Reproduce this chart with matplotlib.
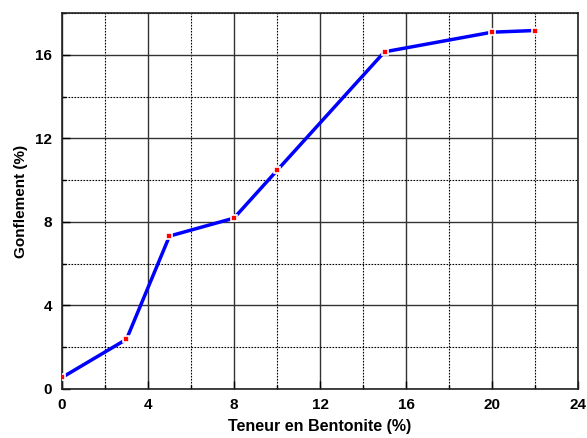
import matplotlib
matplotlib.use("Agg")
import matplotlib.pyplot as plt
from matplotlib.ticker import MultipleLocator

bentonite = [0.0, 3, 5, 8, 10, 15, 20, 22]
gonflement = [0.55, 2.38, 7.32, 8.18, 10.46, 16.14, 17.08, 17.16]
xticks = [0, 4, 8, 12, 16, 20, 24]
yticks = [0, 4, 8, 12, 16]

plt.rcParams['font.family'] = ['Liberation Sans', 'DejaVu Sans']
fig = plt.figure(figsize=(5.87, 4.38), dpi=100)
ax = fig.add_axes([0.1056, 0.1119, 0.8791, 0.8585])

ax.plot(bentonite, gonflement, color='#0000ff', lw=2.5, marker='s', ms=4,
        mfc='red', mec='white', mew=1.2, zorder=3)

ax.set_xlim(0, 24)
ax.set_ylim(0, 18)
ax.set_xticks(xticks)
ax.set_yticks(yticks)
ax.xaxis.set_minor_locator(MultipleLocator(2))
ax.yaxis.set_minor_locator(MultipleLocator(2))
ax.grid(which='major', color='#333333', lw=1.0, ls='-')
ax.grid(which='minor', color='black', lw=0.8, ls=(0, (1.5, 1.2)))
ax.tick_params(which='both', direction='in', top=False, right=False,
               labelsize=11, width=1)
ax.tick_params(which='major', length=6)
ax.tick_params(which='minor', length=3)
ax.tick_params(axis='x', which='major', pad=6.5)
ax.tick_params(axis='y', which='major', pad=7)
for lab in ax.get_xticklabels() + ax.get_yticklabels():
    lab.set_fontweight('bold')
for s in ax.spines.values():
    s.set_linewidth(1.2)
    s.set_color('#222222')

ax.set_xlabel('Teneur en Bentonite (%)', fontsize=11.5, fontweight='bold', labelpad=5)
ax.set_ylabel('Gonflement (%)', fontsize=11, fontweight='bold', labelpad=5)

fig.savefig('out.png', dpi=100)
